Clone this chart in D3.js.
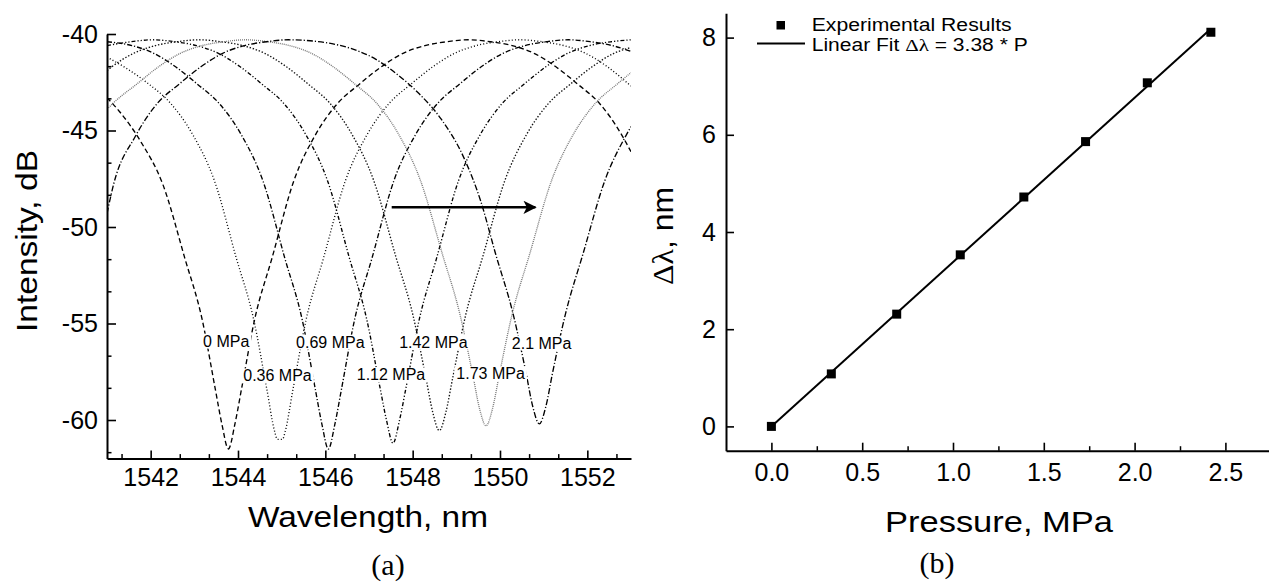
<!DOCTYPE html>
<html><head><meta charset="utf-8">
<script src="https://cdn.jsdelivr.net/npm/d3@7"></script>
<style>
body{margin:0;background:#fff}
text{font-family:"Liberation Sans",Arial,sans-serif;fill:#000}
</style>
</head><body>
<svg id="c" width="1269" height="582"></svg>
<script>
// ---------- Panel (a) data: transmission spectra (wavelength nm, intensity dB) ----------
const spec0 = [[1541.0,-43.3],[1541.28,-44.0],[1541.78,-45.6],[1542.28,-47.8],[1542.78,-51.6],[1543.18,-54.8],[1543.48,-58.4],[1543.63,-60.2],[1543.78,-61.5],[1543.93,-60.2],[1544.08,-58.4],[1544.38,-54.8],[1544.78,-51.6],[1545.28,-47.6],[1545.78,-45.2],[1546.28,-43.6],[1546.78,-42.6],[1547.28,-41.7],[1547.78,-41.0],[1548.28,-40.6],[1548.78,-40.4],[1549.28,-40.3],[1549.78,-40.4],[1550.28,-40.6],[1550.78,-41.0],[1551.28,-41.7],[1551.78,-42.6],[1552.28,-43.6],[1552.78,-45.2],[1553.0,-46.1]];
const spec036 = [[1541.0,-41.2],[1541.46,-41.8],[1541.96,-42.6],[1542.46,-43.6],[1542.96,-45.2],[1543.46,-47.6],[1543.96,-51.6],[1544.36,-54.8],[1544.66,-58.4],[1544.84,-60.6],[1544.9,-61.0],[1545.02,-61.0],[1545.08,-60.6],[1545.26,-58.4],[1545.56,-54.8],[1545.96,-51.6],[1546.46,-47.6],[1546.96,-45.2],[1547.46,-43.6],[1547.96,-42.6],[1548.46,-41.7],[1548.96,-41.0],[1549.46,-40.6],[1549.96,-40.4],[1550.46,-40.3],[1550.96,-40.4],[1551.46,-40.6],[1551.96,-41.0],[1552.46,-41.7],[1553.0,-42.7]];
const spec069 = [[1541.0,-40.4],[1541.57,-40.6],[1542.07,-41.0],[1542.57,-41.7],[1543.07,-42.6],[1543.57,-43.6],[1544.07,-45.2],[1544.57,-47.6],[1545.07,-51.6],[1545.47,-54.8],[1545.77,-58.4],[1545.92,-60.2],[1546.07,-61.5],[1546.22,-60.2],[1546.37,-58.4],[1546.67,-54.8],[1547.07,-51.6],[1547.57,-47.6],[1548.07,-45.2],[1548.57,-43.6],[1549.07,-42.6],[1549.57,-41.7],[1550.07,-41.0],[1550.57,-40.6],[1551.07,-40.4],[1551.57,-40.3],[1552.07,-40.4],[1552.57,-40.6],[1553.0,-40.9]];
const spec112 = [[1541.0,-40.6],[1541.55,-40.4],[1542.05,-40.3],[1542.55,-40.4],[1543.05,-40.6],[1543.55,-41.0],[1544.05,-41.7],[1544.55,-42.6],[1545.05,-43.6],[1545.55,-45.2],[1546.05,-47.6],[1546.55,-51.6],[1546.95,-54.8],[1547.25,-58.3],[1547.4,-60.0],[1547.55,-61.2],[1547.7,-60.0],[1547.85,-58.3],[1548.15,-54.8],[1548.55,-51.6],[1549.05,-47.6],[1549.55,-45.2],[1550.05,-43.6],[1550.55,-42.6],[1551.05,-41.7],[1551.55,-41.0],[1552.05,-40.6],[1552.55,-40.4],[1553.0,-40.3]];
const spec142 = [[1541.0,-41.9],[1541.11,-41.7],[1541.61,-41.0],[1542.11,-40.6],[1542.61,-40.4],[1543.11,-40.3],[1543.61,-40.4],[1544.11,-40.6],[1544.61,-41.0],[1545.11,-41.7],[1545.61,-42.6],[1546.11,-43.6],[1546.61,-45.2],[1547.11,-47.6],[1547.61,-51.5],[1548.01,-54.6],[1548.31,-57.9],[1548.46,-59.6],[1548.61,-60.55],[1548.76,-59.6],[1548.91,-57.9],[1549.21,-54.6],[1549.61,-51.5],[1550.11,-47.6],[1550.61,-45.2],[1551.11,-43.6],[1551.61,-42.6],[1552.11,-41.7],[1552.61,-41.0],[1553.0,-40.7]];
const spec173 = [[1541.0,-43.9],[1541.18,-43.5],[1541.68,-42.6],[1542.18,-41.7],[1542.68,-41.0],[1543.18,-40.6],[1543.68,-40.4],[1544.18,-40.3],[1544.68,-40.4],[1545.18,-40.6],[1545.68,-41.0],[1546.18,-41.7],[1546.68,-42.6],[1547.18,-43.6],[1547.68,-45.2],[1548.18,-47.6],[1548.68,-51.4],[1549.08,-54.5],[1549.38,-57.7],[1549.53,-59.4],[1549.68,-60.3],[1549.83,-59.4],[1549.98,-57.7],[1550.28,-54.5],[1550.68,-51.4],[1551.18,-47.6],[1551.68,-45.2],[1552.18,-43.6],[1552.68,-42.6],[1553.0,-42.0]];
const spec21 = [[1541.0,-49.3],[1541.15,-47.8],[1541.65,-45.3],[1542.15,-43.6],[1542.65,-42.6],[1543.15,-41.7],[1543.65,-41.0],[1544.15,-40.6],[1544.65,-40.4],[1545.15,-40.3],[1545.65,-40.35],[1546.15,-40.5],[1546.65,-40.8],[1547.15,-41.3],[1547.65,-42.1],[1548.15,-43.1],[1548.65,-44.4],[1549.15,-46.3],[1549.55,-48.6],[1549.9,-51.4],[1550.3,-54.5],[1550.6,-57.6],[1550.75,-59.3],[1550.9,-60.2],[1551.05,-59.3],[1551.2,-57.6],[1551.5,-54.5],[1551.9,-51.4],[1552.4,-47.6],[1552.9,-45.2],[1553.0,-44.8]];
const spectra = [spec0, spec036, spec069, spec112, spec142, spec173, spec21];
const spectraLabels = ["0 MPa","0.36 MPa","0.69 MPa","1.12 MPa","1.42 MPa","1.73 MPa","2.1 MPa"];
// label anchor (left x in nm, baseline in dB)
const labelWl = [1543.2, 1544.12, 1545.33, 1546.72, 1547.69, 1549.0, 1550.27];
const labelDb = [-56.2, -58.0, -56.25, -57.95, -56.25, -57.9, -56.3];
const arrowWl = [1547.52, 1550.81];
const arrowDb = -48.98;
const wlTicks = [1542,1544,1546,1548,1550,1552];
const dbTicks = [-40,-45,-50,-55,-60];

// ---------- Panel (b) data ----------
const pressure = [0, 0.33, 0.69, 1.04, 1.39, 1.73, 2.07, 2.42];
const shift = [0, 1.08, 2.31, 3.53, 4.72, 5.86, 7.07, 8.11];
const fitP = [0, 2.42];
const fitShift = [0, 8.18];
const pTicks = [0, 0.5, 1.0, 1.5, 2.0, 2.5];
const sTicks = [0, 2, 4, 6, 8];

const svg = d3.select("#c");

// ================= Panel (a) =================
const xL = d3.scaleLinear().domain([1541,1553]).range([107,631]);
const yL = d3.scaleLinear().domain([-62,-40]).range([458.6,34]);
const gA = svg.append("g");

svg.append("defs").append("clipPath").attr("id","clipA")
  .append("rect").attr("x",107).attr("y",30).attr("width",524).attr("height",429);

const styles = [
  {dash:"5,3", color:"#000"},
  {dash:"1,2.2", color:"#000"},
  {dash:"5,2,1.2,2", color:"#000"},
  {dash:"4,2,1.2,2,1.2,2", color:"#000"},
  {dash:"1.4,1.8", color:"#111"},
  {dash:"1,1", color:"#777"},
  {dash:"6,2,1.2,2", color:"#000"}
];
const lineA = d3.line().x(d=>xL(d[0])).y(d=>yL(d[1])).curve(d3.curveMonotoneX);
const curves = gA.append("g").attr("clip-path","url(#clipA)");
spectra.forEach((s,i)=>{
  curves.append("path").attr("d",lineA(s)).attr("fill","none")
    .attr("stroke",styles[i].color).attr("stroke-width",1.35)
    .attr("stroke-dasharray",styles[i].dash);
});

// labels with white background
spectraLabels.forEach((t,i)=>{
  const g = gA.append("g");
  const tx = g.append("text").attr("x",xL(labelWl[i])).attr("y",yL(labelDb[i]))
    .attr("font-size",16).text(t);
  const bb = tx.node().getBBox();
  g.insert("rect","text").attr("x",bb.x-2).attr("y",bb.y+1).attr("width",bb.width+4)
    .attr("height",bb.height-2).attr("fill","#fff");
});

// arrow
svg.append("defs").append("marker").attr("id","ah").attr("viewBox","0 0 10 10")
  .attr("refX",9).attr("refY",5).attr("markerWidth",6.5).attr("markerHeight",5.5)
  .attr("markerUnits","strokeWidth").attr("orient","auto")
  .append("path").attr("d","M0,0 L10,5 L0,10 L2.5,5 Z").attr("fill","#000");
gA.append("line").attr("x1",xL(arrowWl[0])).attr("x2",xL(arrowWl[1]))
  .attr("y1",yL(arrowDb)).attr("y2",yL(arrowDb))
  .attr("stroke","#000").attr("stroke-width",2.4).attr("marker-end","url(#ah)");

// axes (a)
const minorWl = d3.range(1541.3333,1553,2/3).filter(v=>Math.abs(v-Math.round(v/2)*2)>0.1);
const minorDb = d3.range(-40,-62.01,-5/3).filter(v=>Math.abs(v/5-Math.round(v/5))>0.05);
function styleAxis(g){
  g.selectAll("path.domain").attr("stroke","#000").attr("stroke-width",2);
  g.selectAll(".tick line").attr("stroke","#000").attr("stroke-width",1.6);
  g.selectAll(".tick text").attr("font-size",25).attr("font-family","'Liberation Sans',Arial,sans-serif");
}
const axLx = gA.append("g").attr("transform","translate(0,458.6)")
  .call(d3.axisBottom(xL).tickValues(wlTicks).tickFormat(d=>String(d)).tickSizeInner(-8).tickSizeOuter(0).tickPadding(10));
styleAxis(axLx);
gA.append("g").attr("transform","translate(0,458.6)")
  .call(d3.axisBottom(xL).tickValues(minorWl).tickFormat("").tickSizeInner(-4.5).tickSizeOuter(0))
  .call(g=>{g.select(".domain").remove();g.selectAll("line").attr("stroke","#000").attr("stroke-width",1.5);});
const axLy = gA.append("g").attr("transform","translate(107,0)")
  .call(d3.axisLeft(yL).tickValues(dbTicks).tickFormat(d=>String(d)).tickSizeInner(-9).tickSizeOuter(0).tickPadding(9));
styleAxis(axLy);
gA.append("g").attr("transform","translate(107,0)")
  .call(d3.axisLeft(yL).tickValues(minorDb).tickFormat("").tickSizeInner(-4.5).tickSizeOuter(0))
  .call(g=>{g.select(".domain").remove();g.selectAll("line").attr("stroke","#000").attr("stroke-width",1.5);});

gA.append("text").attr("x",368).attr("y",527).attr("text-anchor","middle")
  .attr("font-size",29).attr("textLength",240).attr("lengthAdjust","spacingAndGlyphs").text("Wavelength, nm");
gA.append("text").attr("transform","translate(37,241) rotate(-90)").attr("text-anchor","middle")
  .attr("font-size",29).attr("textLength",182).attr("lengthAdjust","spacingAndGlyphs").text("Intensity, dB");
gA.append("text").attr("x",388).attr("y",575).attr("text-anchor","middle")
  .attr("font-size",30).style("font-family","'Liberation Serif','Times New Roman',serif").text("(a)");

// ================= Panel (b) =================
const xR = d3.scaleLinear().domain([-0.25,2.75]).range([726,1270.8]);
const yR = d3.scaleLinear().domain([-0.5,8.5]).range([450.7,13.3]);
const gB = svg.append("g");

const axRx = gB.append("g").attr("transform","translate(0,450.7)")
  .call(d3.axisBottom(xR).tickValues(pTicks).tickFormat(d3.format(".1f")).tickSizeInner(-8).tickSizeOuter(0).tickPadding(13));
styleAxis(axRx);
gB.append("g").attr("transform","translate(0,450.7)")
  .call(d3.axisBottom(xR).tickValues([0.25,0.75,1.25,1.75,2.25]).tickFormat("").tickSizeInner(-4.5).tickSizeOuter(0))
  .call(g=>{g.select(".domain").remove();g.selectAll("line").attr("stroke","#000").attr("stroke-width",1.5);});
const axRy = gB.append("g").attr("transform","translate(726,0)")
  .call(d3.axisLeft(yR).tickValues(sTicks).tickFormat(d=>String(d)).tickSizeInner(-8).tickSizeOuter(0).tickPadding(10));
styleAxis(axRy);

// fit line
gB.append("line").attr("x1",xR(fitP[0])).attr("y1",yR(fitShift[0]))
  .attr("x2",xR(fitP[1])).attr("y2",yR(fitShift[1]))
  .attr("stroke","#000").attr("stroke-width",2);
// points
gB.selectAll("rect.pt").data(pressure).enter().append("rect").attr("class","pt")
  .attr("x",(d)=>xR(d)-4.5).attr("y",(d,i)=>yR(shift[i])-4.5)
  .attr("width",9).attr("height",9).attr("fill","#000");

// legend
gB.append("rect").attr("x",776.5).attr("y",21).attr("width",8.5).attr("height",8.5).attr("fill","#000");
gB.append("text").attr("x",811.7).attr("y",31).attr("font-size",17.5)
  .attr("textLength",200).attr("lengthAdjust","spacingAndGlyphs").text("Experimental Results");
gB.append("line").attr("x1",757).attr("x2",805).attr("y1",43.5).attr("y2",43.5)
  .attr("stroke","#000").attr("stroke-width",2);
const lt = gB.append("text").attr("x",811.7).attr("y",51).attr("font-size",17.5)
  .attr("textLength",216).attr("lengthAdjust","spacingAndGlyphs");
lt.append("tspan").text("Linear Fit ");
lt.append("tspan").style("font-family","'Liberation Serif','Times New Roman',serif").text("\u0394\u03BB");
lt.append("tspan").text(" = 3.38 * P");

// titles
gB.append("text").attr("x",999).attr("y",532).attr("text-anchor","middle")
  .attr("font-size",29).attr("textLength",228).attr("lengthAdjust","spacingAndGlyphs").text("Pressure, MPa");
const yt = gB.append("text").attr("transform","translate(673,236) rotate(-90)").attr("text-anchor","middle")
  .attr("font-size",29).attr("textLength",98).attr("lengthAdjust","spacingAndGlyphs");
yt.append("tspan").style("font-family","'Liberation Serif','Times New Roman',serif").text("\u0394\u03BB");
yt.append("tspan").text(", nm");
gB.append("text").attr("x",937).attr("y",573).attr("text-anchor","middle")
  .attr("font-size",30).style("font-family","'Liberation Serif','Times New Roman',serif").text("(b)");
</script>
</body></html>
